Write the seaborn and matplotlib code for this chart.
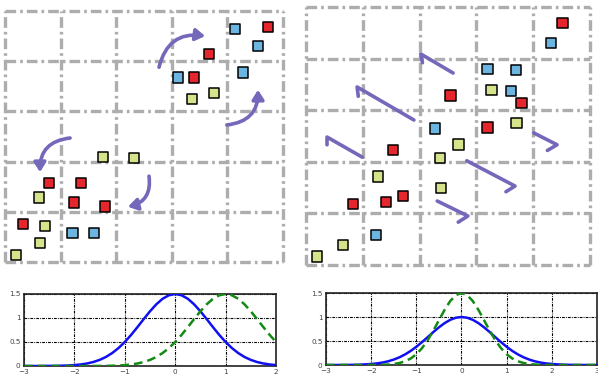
import matplotlib
matplotlib.use("Agg")
import matplotlib.pyplot as plt
import seaborn as sns
import pandas as pd
from matplotlib.patches import FancyArrowPatch

# ── Data ─────────────────────────────────────────────────────────────────
# top-left panel: squares (grid units, 5x5 cells)
left_x = [4.14, 4.73, 4.55, 3.67, 4.28, 3.11, 3.40, 3.76, 3.36, 1.76, 2.32,
          0.79, 1.37, 0.61, 1.24, 1.80, 0.32, 0.72, 1.21, 1.60, 0.63, 0.20]
left_y = [4.64, 4.68, 4.30, 4.14, 3.78, 3.67, 3.67, 3.37, 3.25, 2.09, 2.07,
          1.57, 1.57, 1.29, 1.18, 1.10, 0.76, 0.72, 0.58, 0.58, 0.38, 0.14]
left_kind = ["blue", "red", "blue", "red", "blue", "blue", "red", "yellow", "yellow", "yellow", "yellow",
             "red", "red", "yellow", "red", "red", "red", "yellow", "blue", "blue", "yellow", "yellow"]

# top-left panel: curved arrows (start, end, curvature)
curve_start = [(2.77, 3.88), (3.99, 2.73), (1.17, 2.47), (2.59, 1.71)]
curve_end = [(3.60, 4.50), (4.55, 3.43), (0.63, 1.79), (2.21, 1.10)]
curve_rad = [-0.45, 0.45, 0.45, -0.45]

# top-right panel: squares
right_x = [4.52, 4.31, 3.20, 3.70, 3.27, 3.61, 2.54, 3.79, 3.20, 3.71, 2.27,
           2.68, 1.53, 2.36, 1.27, 2.38, 1.71, 1.41, 0.83, 1.23, 0.65, 0.19]
right_y = [4.69, 4.30, 3.80, 3.78, 3.39, 3.37, 3.29, 3.14, 2.67, 2.75, 2.64,
           2.34, 2.23, 2.07, 1.72, 1.49, 1.34, 1.22, 1.18, 0.58, 0.39, 0.16]
right_kind = ["red", "blue", "blue", "blue", "yellow", "blue", "red", "red", "red", "yellow", "blue",
              "yellow", "red", "yellow", "yellow", "yellow", "red", "red", "red", "blue", "yellow", "yellow"]

# top-right panel: half-headed arrows (barb end, tip, tail)
hook_barb = [(2.05, 3.92), (0.92, 3.27), (0.37, 2.33), (3.52, 1.42), (4.25, 2.22), (2.68, 0.83)]
hook_tip = [(2.02, 4.09), (0.90, 3.45), (0.37, 2.48), (3.68, 1.53), (4.42, 2.33), (2.85, 0.95)]
hook_tail = [(2.59, 3.72), (1.90, 2.81), (0.99, 2.09), (2.83, 2.02), (4.01, 2.56), (2.31, 1.24)]

# bottom-left panel: curves
bl_x = [-3, -2.875, -2.75, -2.625, -2.5, -2.375, -2.25, -2.125, -2, -1.875, -1.75, -1.625,
        -1.5, -1.375, -1.25, -1.125, -1, -0.875, -0.75, -0.625, -0.5, -0.375, -0.25, -0.125,
        0, 0.125, 0.25, 0.375, 0.5, 0.625, 0.75, 0.875, 1, 1.125, 1.25, 1.375,
        1.5, 1.625, 1.75, 1.875, 2]
bl_blue = [0, 0, 0, 0.001, 0.002, 0.003, 0.006, 0.011, 0.019, 0.032, 0.052, 0.083,
           0.127, 0.188, 0.270, 0.374, 0.5, 0.647, 0.809, 0.977, 1.140, 1.285, 1.401, 1.474,
           1.5, 1.474, 1.401, 1.285, 1.140, 0.977, 0.809, 0.647, 0.5, 0.374, 0.270, 0.188,
           0.127, 0.083, 0.052, 0.032, 0.019]
bl_green = [0, 0, 0, 0, 0, 0, 0, 0, 0, 0, 0, 0.001,
            0.002, 0.003, 0.006, 0.011, 0.019, 0.032, 0.052, 0.083, 0.127, 0.188, 0.270, 0.374,
            0.5, 0.647, 0.809, 0.977, 1.140, 1.285, 1.401, 1.474, 1.5, 1.474, 1.401, 1.285,
            1.140, 0.977, 0.809, 0.647, 0.5]

# bottom-right panel: curves
br_x = [-3, -2.875, -2.75, -2.625, -2.5, -2.375, -2.25, -2.125, -2, -1.875, -1.75, -1.625,
        -1.5, -1.375, -1.25, -1.125, -1, -0.875, -0.75, -0.625, -0.5, -0.375, -0.25, -0.125,
        0, 0.125, 0.25, 0.375, 0.5, 0.625, 0.75, 0.875, 1, 1.125, 1.25, 1.375,
        1.5, 1.625, 1.75, 1.875, 2, 2.125, 2.25, 2.375, 2.5, 2.625, 2.75, 2.875, 3]
br_blue = [0, 0, 0, 0.001, 0.002, 0.004, 0.007, 0.013, 0.021, 0.033, 0.051, 0.077,
           0.113, 0.160, 0.220, 0.293, 0.379, 0.476, 0.579, 0.685, 0.785, 0.872, 0.941, 0.985,
           1.0, 0.985, 0.941, 0.872, 0.785, 0.685, 0.579, 0.476, 0.379, 0.293, 0.220, 0.160,
           0.113, 0.077, 0.051, 0.033, 0.021, 0.013, 0.007, 0.004, 0.002, 0.001, 0, 0, 0]
br_green = [0, 0, 0, 0, 0, 0, 0, 0, 0.001, 0.002, 0.004, 0.010,
            0.021, 0.041, 0.077, 0.135, 0.224, 0.350, 0.515, 0.714, 0.933, 1.148, 1.332, 1.456,
            1.5, 1.456, 1.332, 1.148, 0.933, 0.714, 0.515, 0.350, 0.224, 0.135, 0.077, 0.041,
            0.021, 0.010, 0.004, 0.002, 0.001, 0, 0, 0, 0, 0, 0, 0, 0]

bl_xticks = [-3, -2, -1, 0, 1, 2]
br_xticks = [-3, -2, -1, 0, 1, 2, 3]
y_ticks = [0, 0.5, 1, 1.5]
y_ticklabels = ["0", "0.5", "1", "1.5"]

# ── Styles ───────────────────────────────────────────────────────────────
PALETTE = {"red": "#e5262c", "blue": "#6cb5e0", "yellow": "#d6e38b"}
GRID_GRAY = "#adadad"
ARROW = "#7468bb"
GRID_DASH = (0, (3.2, 1.2, 0.8, 1.2))

sns.set_style("white")
plt.rcParams["font.family"] = ["DejaVu Sans"]

fig = plt.figure(figsize=(5.98, 3.78), dpi=100)


def cell_grid(ax):
    ax.set_xlim(0, 5)
    ax.set_ylim(0, 5)
    for v in range(6):
        ax.plot([v, v], [0, 5], color=GRID_GRAY, lw=2.4, ls=GRID_DASH, clip_on=False, zorder=1)
        ax.plot([0, 5], [v, v], color=GRID_GRAY, lw=2.4, ls=GRID_DASH, clip_on=False, zorder=1)
    ax.set_xticks([])
    ax.set_yticks([])
    sns.despine(ax=ax, left=True, bottom=True)


def squares(ax, xs, ys, kinds):
    df = pd.DataFrame({"x": xs, "y": ys, "kind": kinds})
    sns.scatterplot(data=df, x="x", y="y", hue="kind", palette=PALETTE, marker="s",
                    s=58, edgecolor="black", linewidth=1.1, legend=False, ax=ax, zorder=3)
    ax.set_xlabel("")
    ax.set_ylabel("")


# ── Top-left ─────────────────────────────────────────────────────────────
ax1 = fig.add_axes([5 / 598, 116 / 378, 278 / 598, 251 / 378])
cell_grid(ax1)
squares(ax1, left_x, left_y, left_kind)
for p0, p1, rad in zip(curve_start, curve_end, curve_rad):
    arr = FancyArrowPatch(p0, p1, connectionstyle=f"arc3,rad={rad}",
                          arrowstyle="-|>,head_length=5.5,head_width=3.5",
                          color=ARROW, lw=2.6, zorder=4, shrinkA=0, shrinkB=0)
    ax1.add_patch(arr)

# ── Top-right ────────────────────────────────────────────────────────────
ax2 = fig.add_axes([306 / 598, 113 / 378, 284 / 598, 258 / 378])
cell_grid(ax2)
squares(ax2, right_x, right_y, right_kind)
for b, t, tl in zip(hook_barb, hook_tip, hook_tail):
    ax2.plot([b[0], t[0], tl[0]], [b[1], t[1], tl[1]], color=ARROW, lw=2.6,
             solid_capstyle="round", solid_joinstyle="round", zorder=4)


# ── Bottom curves ────────────────────────────────────────────────────────
def curve_panel(rect, xs, blue, green, xticks):
    ax = fig.add_axes(rect)
    sns.lineplot(x=xs, y=blue, color="#1010f0", lw=1.8, ax=ax, zorder=3)
    sns.lineplot(x=xs, y=green, color="#138a13", lw=1.8, ax=ax, zorder=4, linestyle=(0, (3.5, 2)))
    ax.set_xlim(xticks[0], xticks[-1])
    ax.set_ylim(0, 1.5)
    ax.set_xticks(xticks)
    ax.set_yticks(y_ticks)
    ax.set_yticklabels(y_ticklabels)
    ax.set_xticklabels([str(v).replace("-", "\u2212") for v in xticks])
    ax.grid(True, color="black", lw=0.8, ls=(0, (2.5, 1, 0.8, 1)))
    ax.tick_params(labelsize=5.2, colors="#444444", length=2, width=0.6, direction="in")
    ax.tick_params(axis="y", pad=2.5)
    ax.tick_params(axis="x", pad=2.0)
    for s in ax.spines.values():
        s.set_visible(True)
        s.set_color("#222222")
        s.set_linewidth(1.2)
    return ax


curve_panel([24 / 598, 12 / 378, 252 / 598, 72 / 378], bl_x, bl_blue, bl_green, bl_xticks)
curve_panel([326 / 598, 13 / 378, 271 / 598, 72 / 378], br_x, br_blue, br_green, br_xticks)

fig.savefig("out.png", dpi=100)
